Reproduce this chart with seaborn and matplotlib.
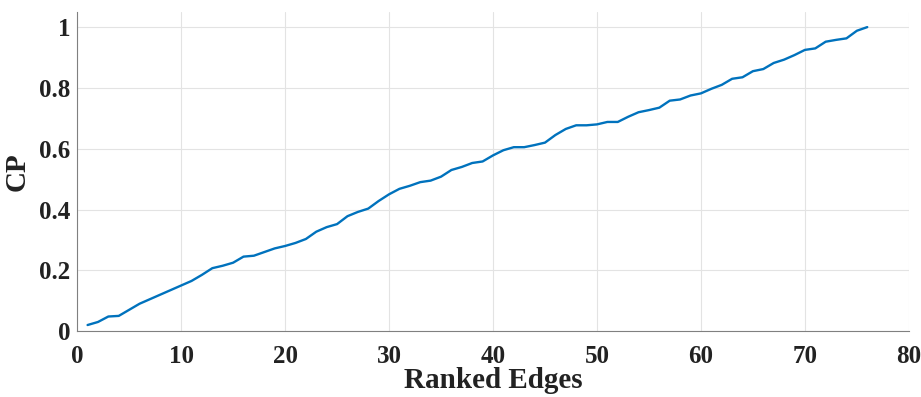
import numpy as np
import pandas as pd
import matplotlib
matplotlib.use("Agg")
import matplotlib.pyplot as plt
import seaborn as sns

# ranked edges and cumulative CP
edges = list(range(1, 77))
cp = [0.020, 0.030, 0.048, 0.050, 0.070, 0.090, 0.105, 0.120, 0.135, 0.150,
      0.165, 0.185, 0.207, 0.215, 0.225, 0.245, 0.248, 0.260, 0.272, 0.280,
      0.290, 0.303, 0.327, 0.342, 0.352, 0.378, 0.392, 0.403, 0.428, 0.450,
      0.468, 0.478, 0.490, 0.495, 0.508, 0.530, 0.540, 0.553, 0.558, 0.578,
      0.595, 0.605, 0.605, 0.612, 0.620, 0.645, 0.665, 0.677, 0.677, 0.680,
      0.688, 0.688, 0.705, 0.720, 0.727, 0.735, 0.758, 0.762, 0.775, 0.782,
      0.797, 0.810, 0.830, 0.835, 0.855, 0.862, 0.882, 0.893, 0.908, 0.925,
      0.930, 0.952, 0.958, 0.963, 0.988, 1.000]
xticks = [0, 10, 20, 30, 40, 50, 60, 70, 80]
yticks = [0, 0.2, 0.4, 0.6, 0.8, 1]
ytick_labels = ["0", "0.2", "0.4", "0.6", "0.8", "1"]

df = pd.DataFrame({"Ranked Edges": edges, "CP": cp})

sns.set_style("white")
plt.rcParams['font.family'] = ['Liberation Serif', 'DejaVu Serif']
plt.rcParams['font.weight'] = 'bold'

fig = plt.figure(figsize=(9.21, 3.97), dpi=100)
ax = fig.add_axes([0.0838, 0.166, 0.903, 0.804])

sns.lineplot(data=df, x="Ranked Edges", y="CP", color="#0072BD", linewidth=1.7, ax=ax)

ax.set_xlim(0, 80)
ax.set_ylim(0, 1.05)
ax.set_xticks(xticks)
ax.set_xticklabels([str(t) for t in xticks])
ax.set_yticks(yticks)
ax.set_yticklabels(ytick_labels)
ax.grid(True, color="#e3e3e3", linewidth=0.8)
ax.set_axisbelow(True)

for s in ["top", "right"]:
    ax.spines[s].set_visible(False)
for s in ["left", "bottom"]:
    ax.spines[s].set_color("#808080")
    ax.spines[s].set_linewidth(0.8)

ax.tick_params(direction="in", length=5, width=0.8, color="#808080",
               labelsize=18, labelcolor="#222222")
ax.tick_params(axis="x", pad=10)
ax.tick_params(axis="y", pad=5)
for lab in ax.get_xticklabels() + ax.get_yticklabels():
    lab.set_fontweight("bold")

ax.set_xlabel("Ranked Edges", fontsize=21, fontweight="bold", color="#222222", labelpad=-1)
ax.set_ylabel("CP", fontsize=21, fontweight="bold", color="#222222", labelpad=6)

fig.savefig("out.png", dpi=100)
